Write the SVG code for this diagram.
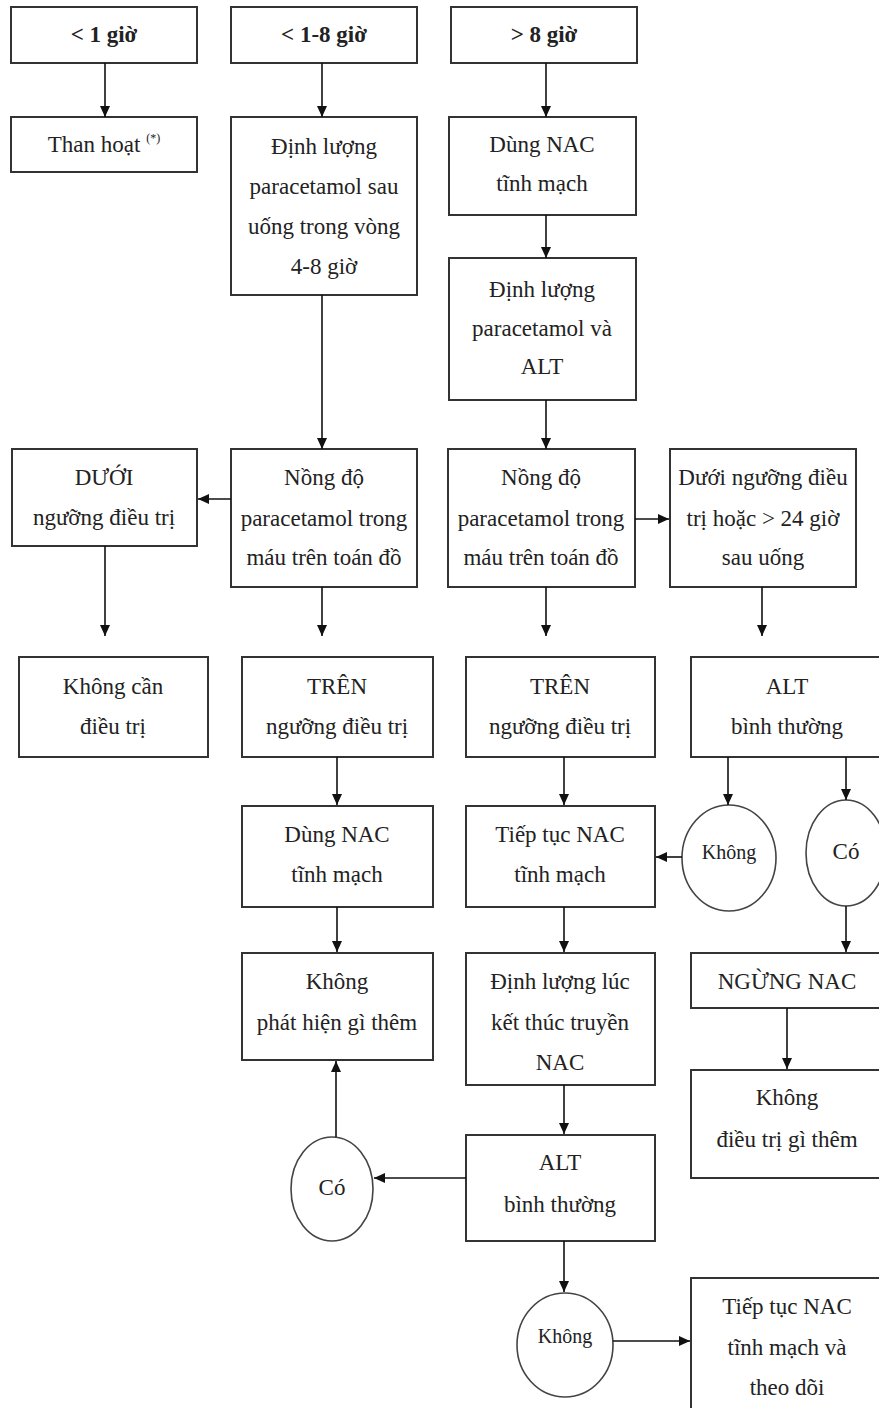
<svg xmlns="http://www.w3.org/2000/svg" width="879" height="1408" viewBox="0 0 879 1408">
<defs>
<marker id="ah" markerUnits="userSpaceOnUse" markerWidth="12" markerHeight="10" refX="11" refY="5" orient="auto">
<path d="M0,0 L11,5 L0,10 z" fill="#111"/>
</marker>
<style>
.b{fill:#fff;stroke:#333;stroke-width:2}
.c{fill:#fff;stroke:#444;stroke-width:1.6}
.t{font-family:"Liberation Serif","Times New Roman",serif;font-size:23px;fill:#222;text-anchor:middle}
.h{font-weight:bold}
.s{font-size:20px}
.l{fill:none;stroke:#111;stroke-width:1.6;marker-end:url(#ah)}
</style>
</defs>
<rect width="879" height="1408" fill="#fff"/>

<g id="n1"><rect class="b" x="11" y="7" width="186" height="56"/><text class="t h" x="104" y="42">&lt; 1 giờ</text></g>
<g id="n2"><rect class="b" x="231" y="7" width="186" height="56"/><text class="t h" x="324" y="42">&lt; 1-8 giờ</text></g>
<g id="n3"><rect class="b" x="451" y="7" width="186" height="56"/><text class="t h" x="544" y="42">&gt; 8 giờ</text></g>

<g id="n4"><rect class="b" x="11" y="117" width="186" height="55"/><text class="t" x="104" y="152">Than hoạt <tspan font-size="12" dy="-10">(*)</tspan></text></g>
<g id="n5"><rect class="b" x="231" y="117" width="186" height="178"/><text class="t" x="324" y="154">Định lượng</text><text class="t" x="324" y="194">paracetamol sau</text><text class="t" x="324" y="234">uống trong vòng</text><text class="t" x="324" y="274">4-8 giờ</text></g>
<g id="n6"><rect class="b" x="449" y="117" width="187" height="98"/><text class="t" x="542" y="152">Dùng NAC</text><text class="t" x="542" y="191">tĩnh mạch</text></g>
<g id="n7"><rect class="b" x="449" y="258" width="187" height="142"/><text class="t" x="542" y="297">Định lượng</text><text class="t" x="542" y="336">paracetamol và</text><text class="t" x="542" y="374">ALT</text></g>

<g id="n8"><rect class="b" x="12" y="449" width="185" height="97"/><text class="t" x="104" y="485">DƯỚI</text><text class="t" x="104" y="525">ngưỡng điều trị</text></g>
<g id="n9"><rect class="b" x="231" y="449" width="186" height="138"/><text class="t" x="324" y="485">Nồng độ</text><text class="t" x="324" y="526">paracetamol trong</text><text class="t" x="324" y="565">máu trên toán đồ</text></g>
<g id="n10"><rect class="b" x="448" y="449" width="187" height="138"/><text class="t" x="541" y="485">Nồng độ</text><text class="t" x="541" y="526">paracetamol trong</text><text class="t" x="541" y="565">máu trên toán đồ</text></g>
<g id="n11"><rect class="b" x="670" y="449" width="186" height="138"/><text class="t" x="763" y="485">Dưới ngưỡng điều</text><text class="t" x="763" y="526">trị hoặc &gt; 24 giờ</text><text class="t" x="763" y="565">sau uống</text></g>

<g id="n12"><rect class="b" x="19" y="657" width="189" height="100"/><text class="t" x="113" y="694">Không cần</text><text class="t" x="113" y="734">điều trị</text></g>
<g id="n13"><rect class="b" x="242" y="657" width="191" height="100"/><text class="t" x="337" y="694">TRÊN</text><text class="t" x="337" y="734">ngưỡng điều trị</text></g>
<g id="n14"><rect class="b" x="466" y="657" width="189" height="100"/><text class="t" x="560" y="694">TRÊN</text><text class="t" x="560" y="734">ngưỡng điều trị</text></g>
<g id="n15"><rect class="b" x="691" y="657" width="192" height="100"/><text class="t" x="787" y="694">ALT</text><text class="t" x="787" y="734">bình thường</text></g>

<g id="n16"><rect class="b" x="242" y="806" width="191" height="101"/><text class="t" x="337" y="842">Dùng NAC</text><text class="t" x="337" y="882">tĩnh mạch</text></g>
<g id="n17"><rect class="b" x="466" y="806" width="189" height="101"/><text class="t" x="560" y="842">Tiếp tục NAC</text><text class="t" x="560" y="882">tĩnh mạch</text></g>
<g id="c1"><ellipse class="c" cx="729" cy="858" rx="47" ry="53"/><text class="t s" x="729" y="859">Không</text></g>
<g id="c2"><ellipse class="c" cx="846" cy="853" rx="40" ry="53"/><text class="t" x="846" y="859">Có</text></g>

<g id="n18"><rect class="b" x="242" y="953" width="191" height="107"/><text class="t" x="337" y="989">Không</text><text class="t" x="337" y="1030">phát hiện gì thêm</text></g>
<g id="n19"><rect class="b" x="466" y="953" width="189" height="132"/><text class="t" x="560" y="989">Định lượng lúc</text><text class="t" x="560" y="1030">kết thúc truyền</text><text class="t" x="560" y="1070">NAC</text></g>
<g id="n20"><rect class="b" x="691" y="953" width="192" height="55"/><text class="t" x="787" y="989">NGỪNG NAC</text></g>
<g id="n21"><rect class="b" x="691" y="1070" width="192" height="108"/><text class="t" x="787" y="1105">Không</text><text class="t" x="787" y="1147">điều trị gì thêm</text></g>

<g id="n22"><rect class="b" x="466" y="1135" width="189" height="106"/><text class="t" x="560" y="1170">ALT</text><text class="t" x="560" y="1212">bình thường</text></g>
<g id="c3"><ellipse class="c" cx="332" cy="1189" rx="41" ry="52"/><text class="t" x="332" y="1195">Có</text></g>
<g id="c4"><ellipse class="c" cx="565" cy="1345" rx="48" ry="52"/><text class="t s" x="565" y="1343">Không</text></g>
<g id="n23"><rect class="b" x="691" y="1278" width="192" height="140"/><text class="t" x="787" y="1314">Tiếp tục NAC</text><text class="t" x="787" y="1355">tĩnh mạch và</text><text class="t" x="787" y="1395">theo dõi</text></g>

<g id="connectors">
<line class="l" x1="105" y1="63" x2="105" y2="117"/>
<line class="l" x1="322" y1="63" x2="322" y2="117"/>
<line class="l" x1="546" y1="63" x2="546" y2="117"/>
<line class="l" x1="322" y1="295" x2="322" y2="449"/>
<line class="l" x1="546" y1="215" x2="546" y2="258"/>
<line class="l" x1="546" y1="400" x2="546" y2="449"/>
<line class="l" x1="231" y1="499" x2="198" y2="499"/>
<line class="l" x1="105" y1="546" x2="105" y2="636"/>
<line class="l" x1="322" y1="587" x2="322" y2="636"/>
<line class="l" x1="635" y1="519" x2="669" y2="519"/>
<line class="l" x1="546" y1="587" x2="546" y2="636"/>
<line class="l" x1="762" y1="587" x2="762" y2="636"/>
<line class="l" x1="337" y1="757" x2="337" y2="805"/>
<line class="l" x1="564" y1="757" x2="564" y2="805"/>
<line class="l" x1="728" y1="757" x2="728" y2="805"/>
<line class="l" x1="846" y1="757" x2="846" y2="800"/>
<line class="l" x1="682" y1="857" x2="656" y2="857"/>
<line class="l" x1="337" y1="907" x2="337" y2="952"/>
<line class="l" x1="564" y1="907" x2="564" y2="952"/>
<line class="l" x1="846" y1="906" x2="846" y2="952"/>
<line class="l" x1="787" y1="1008" x2="787" y2="1069"/>
<line class="l" x1="564" y1="1085" x2="564" y2="1134"/>
<line class="l" x1="466" y1="1178" x2="374" y2="1178"/>
<line class="l" x1="336" y1="1137" x2="336" y2="1061"/>
<line class="l" x1="564" y1="1241" x2="564" y2="1292"/>
<line class="l" x1="613" y1="1341" x2="690" y2="1341"/>
</g>
</svg>
